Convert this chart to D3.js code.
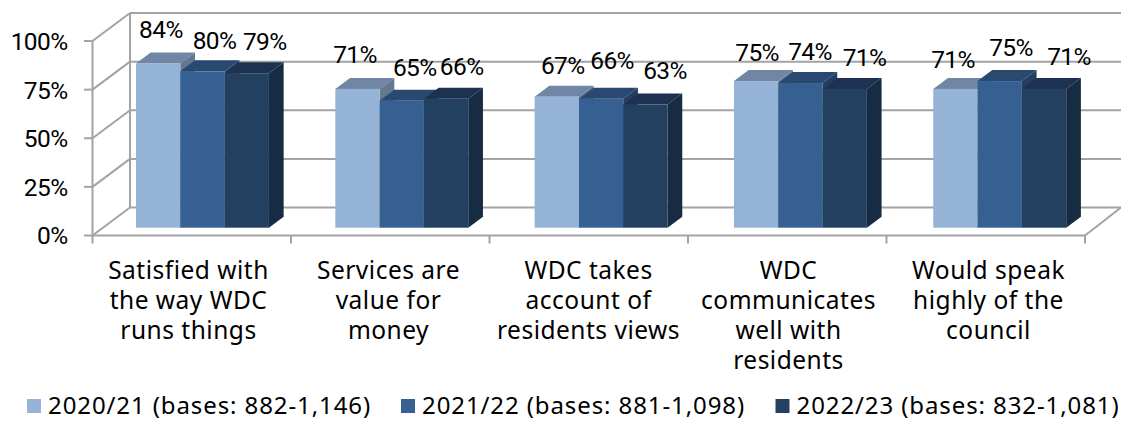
<!DOCTYPE html>
<html><head><meta charset="utf-8">
<style>html,body{margin:0;background:#fff}svg{display:block}text{fill:#000}</style>
<script src="https://cdn.jsdelivr.net/npm/d3@7/dist/d3.min.js"></script></head>
<body><div id="c"></div>
<script>
const categories=[["Satisfied with","the way WDC","runs things"],["Services are","value for","money"],["WDC takes","account of","residents views"],["WDC","communicates","well with","residents"],["Would speak","highly of the","council"]];
const seriesNames=["2020/21 (bases: 882-1,146)","2021/22 (bases: 881-1,098)","2022/23 (bases: 832-1,081)"];
const values2021=[84,71,67,75,71];
const values2122=[80,65,66,74,75];
const values2223=[79,66,63,71,71];
const yTicks=[0,25,50,75,100];
const frontColors=["#95B3D7","#366092","#244061"];
const topColors=["#7086A4","#294970","#1C3250"];
const sideColors=["#64788F","#223F62","#172B42"];
const labelDx=[[2.8,12,18],[-2.5,13,15.6],[6,11,19.6],[1,9.6,19.8],[-2.4,11.3,25]];
const labelY=[[28.7,40.3,40.7],[53.7,67,66],[65,60.3,70],[51.7,50.7,56.7],[59,46.7,55.7]];
const series=[values2021,values2122,values2223];
const W=1121,H=422;
const svg=d3.select("#c").append("svg").attr("width",W).attr("height",H);
const F="Roboto, sans-serif", FT="'Noto Sans', sans-serif";
const depthX=37.5,depthY=-28;
const yF=d3.scaleLinear().domain([0,100]).range([235.5,41]);
const xTick=d3.scaleBand().domain(d3.range(5)).range([92.5,1085]);
const xCat=d3.scalePoint().domain(d3.range(5)).range([188.5,988.5]);
const g=svg.append("g");
const grey="#A3A3A3";
yTicks.forEach(t=>{
  const y=yF(t);
  g.append("line").attr("x1",92.5).attr("x2",92.5+depthX).attr("y1",y).attr("y2",y+depthY).attr("stroke",grey).attr("stroke-width",2);
  g.append("line").attr("x1",92.5+depthX).attr("x2",1121).attr("y1",y+depthY).attr("y2",y+depthY).attr("stroke",grey).attr("stroke-width",2);
  g.append("line").attr("x1",84).attr("x2",92.5).attr("y1",y).attr("y2",y).attr("stroke",grey).attr("stroke-width",2);
});
g.append("line").attr("x1",92.5).attr("x2",92.5).attr("y1",yF(100)).attr("y2",yF(0)).attr("stroke",grey).attr("stroke-width",2);
g.append("line").attr("x1",92.5+depthX).attr("x2",92.5+depthX).attr("y1",yF(100)+depthY).attr("y2",yF(0)+depthY).attr("stroke",grey).attr("stroke-width",2);
g.append("line").attr("x1",92.5).attr("x2",1085).attr("y1",yF(0)).attr("y2",yF(0)).attr("stroke",grey).attr("stroke-width",2);
g.append("line").attr("x1",1085).attr("x2",1085+36).attr("y1",yF(0)).attr("y2",yF(0)+depthY).attr("stroke",grey).attr("stroke-width",2);
d3.range(6).forEach(i=>{
  const x=i<5?xTick(i):1085;
  g.append("line").attr("x1",x).attr("x2",x).attr("y1",yF(0)).attr("y2",yF(0)+8).attr("stroke",grey).attr("stroke-width",2);
});
yTicks.forEach(t=>{
  g.append("text").attr("x",67.5).attr("y",yF(t)+8.9).attr("text-anchor","end").attr("font-family",F).attr("font-size",24.5).attr("letter-spacing",-0.6).text(t+"%");
});
const xBand=d3.scaleBand().domain(d3.range(5)).range([136,1066.2]).paddingInner(0.333);
const xSub=d3.scaleBand().domain(d3.range(3)).range([0,xBand.bandwidth()]);
const yB=d3.scaleLinear().domain([0,100]).range([227.7,32.2]);
const bx=14.7,by=-11;
const line=d3.line();
categories.forEach((c,i)=>{
  series.forEach((s,k)=>{
    const x=xBand(i)+xSub(k),w=xSub.bandwidth(),t=yB(s[i]),b=yB(0);
    g.append("path").attr("d",line([[x,t],[x+bx,t+by],[x+w+bx,t+by],[x+w,t]])+"Z").attr("fill",topColors[k]);
    g.append("path").attr("d",line([[x+w,t],[x+w+bx,t+by],[x+w+bx,b+by],[x+w,b]])+"Z").attr("fill",sideColors[k]);
    g.append("rect").attr("x",x).attr("y",t).attr("width",w).attr("height",b-t).attr("fill",frontColors[k]);
  });
});
categories.forEach((c,i)=>{
  series.forEach((s,k)=>{
    const x=xBand(i)+xSub(k)+xSub.bandwidth()/2+labelDx[i][k];
    g.append("text").attr("x",x).attr("y",labelY[i][k]+8.9).attr("text-anchor","middle").attr("font-family",F).attr("font-size",24.5).attr("letter-spacing",-0.6).text(s[i]+"%");
  });
});
categories.forEach((c,i)=>{
  c.forEach((l,j)=>{
    g.append("text").attr("x",xCat(i)).attr("y",278.5+j*30.3).attr("text-anchor","middle").attr("font-family",FT).attr("font-size",24.5).attr("letter-spacing",0.5).text(l);
  });
});
const legendX=[27,401,775.5];
seriesNames.forEach((n,k)=>{
  g.append("rect").attr("x",legendX[k]).attr("y",399).attr("width",14).attr("height",14).attr("fill",frontColors[k]);
  g.append("text").attr("x",legendX[k]+21).attr("y",414).attr("font-family",FT).attr("font-size",24).attr("letter-spacing",0.9).text(n);
});
</script></body></html>
